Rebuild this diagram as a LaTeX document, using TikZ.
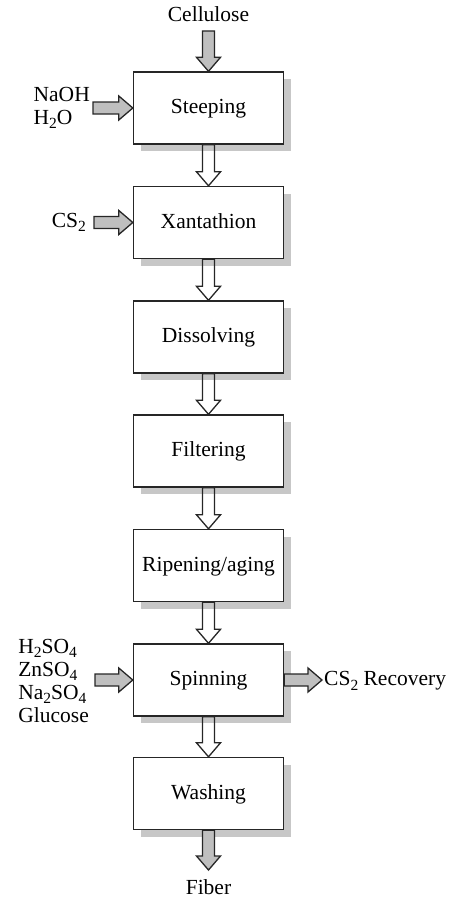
\documentclass[tikz,border=0pt]{standalone}
\usepackage{fontspec}
\setmainfont{Liberation Serif}
\usetikzlibrary{calc,shadows}
\newcommand{\sbs}[1]{\raisebox{-0.45ex}{\fontsize{15.5}{15.5}\selectfont #1}}
\tikzset{
  stepbox/.style={draw=black!85, line width=1.4pt, fill=white, minimum width=150pt, minimum height=72pt, inner sep=0pt,
    text height=15pt, text depth=4pt,
    drop shadow={shadow xshift=7pt, shadow yshift=-7pt, fill=black!22, opacity=1}},
  lbl/.style={inner sep=0pt, align=left},
  fatarrow/.style={line width=1.3pt, draw=black!85, line join=miter,
    to path={-- ($(\tikztostart)!6pt!90:(\tikztotarget)$)
             -- ($(\tikztotarget)!15.23pt!-23.2:(\tikztostart)$)
             -- ($(\tikztotarget)!18.44pt!-40.6:(\tikztostart)$)
             -- (\tikztotarget)
             -- ($(\tikztotarget)!18.44pt!40.6:(\tikztostart)$)
             -- ($(\tikztotarget)!15.23pt!23.2:(\tikztostart)$)
             -- ($(\tikztostart)!6pt!-90:(\tikztotarget)$)
             -- cycle}},
  hollow/.style={fatarrow},
  grayarr/.style={fatarrow, fill=black!25},
}
\begin{document}
\begin{tikzpicture}[x=1pt,y=-1pt,font=\fontsize{21.5}{23}\selectfont]
\useasboundingbox (0,0) rectangle (455,899);
\node[stepbox] (s1) at (208.5,108) {Steeping};
\node[stepbox] (s2) at (208.5,222.5) {Xantathion};
\node[stepbox] (s3) at (208.5,337) {Dissolving};
\node[stepbox] (s4) at (208.5,451) {Filtering};
\node[stepbox] (s5) at (208.5,565.5) {Ripening/aging};
\node[stepbox] (s6) at (208.5,680) {Spinning};
\node[stepbox] (s7) at (208.5,793.5) {Washing};

\node[lbl, anchor=base] (cel) at (208.5,22) {Cellulose};
\node[lbl, anchor=base] (fib) at (208.5,894) {Fiber};
\node[lbl, anchor=east] (naoh) at (90,108) {NaOH\\H\sbs{2}O};
\node[lbl, anchor=east] (cs) at (86,222.5) {CS\sbs{2}};
\node[lbl, anchor=east] (acid) at (89,681) {H\sbs{2}SO\sbs{4}\\ZnSO\sbs{4}\\Na\sbs{2}SO\sbs{4}\\Glucose};
\node[lbl, anchor=west] (rec) at (324,681) {CS\sbs{2} Recovery};
\coordinate (recin) at (rec.west |- s6.east);

\draw[grayarr] ([yshift=-9pt]cel.base) to (s1.north);
\draw[grayarr] ([xshift=3pt]naoh.east |- s1.west) to (s1.west);
\draw[grayarr] ([xshift=8pt]cs.east |- s2.west) to (s2.west);
\draw[grayarr] ([xshift=6pt]acid.east |- s6.west) to (s6.west);
\draw[grayarr] (s6.east) to ([xshift=-2pt]recin);
\draw[grayarr] (s7.south) to ([yshift=24pt]fib.base);

\draw[hollow] (s1.south) to (s2.north);
\draw[hollow] (s2.south) to (s3.north);
\draw[hollow] (s3.south) to (s4.north);
\draw[hollow] (s4.south) to (s5.north);
\draw[hollow] (s5.south) to (s6.north);
\draw[hollow] (s6.south) to (s7.north);
\end{tikzpicture}
\end{document}
